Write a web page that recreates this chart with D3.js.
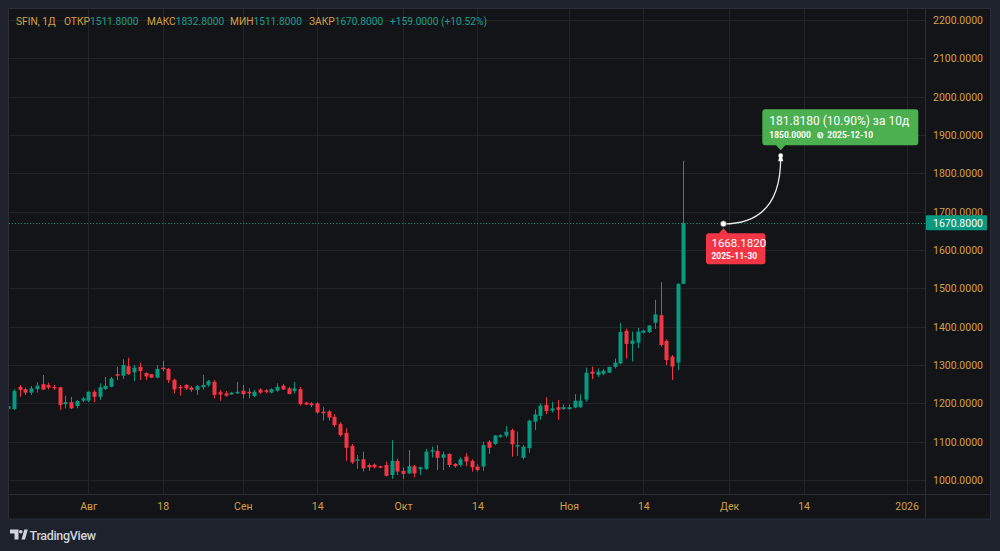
<!DOCTYPE html>
<html><head><meta charset="utf-8">
<script src="https://cdn.jsdelivr.net/npm/d3@7"></script>
<style>
html,body{margin:0;padding:0;background:#1e222d;}
svg{display:block;font-family:Roboto,"Liberation Sans",sans-serif;}
</style></head>
<body>
<svg id="c" width="1000" height="551"></svg>
<script>
// ---------- DATA ----------
const symbol = "SFIN, 1Д";
const opens  = [1185,1185,1243,1237,1228,1237,1250,1248,1243,1242,1198,1203,1193,1207,1207,1230,1217,1237,1243,1276,
                1272,1297,1281,1295,1279,1276,1267,1293,1290,1261,1243,1248,1241,1235,1242,1248,1256,1229,1226,1223,
                1226,1233,1230,1219,1236,1234,1228,1233,1246,1239,1232,1237,1202,1200,1200,1178,1179,1165,1146,1123,
                1089,1050,1054,1039,1040,1036,1039,1013,1050,1024,1017,1036,1028,1029,1074,1076,1058,1068,1042,1039,
                1061,1050,1035,1035,1100,1094,1113,1116,1130,1087,1058,1083,1152,1167,1196,1181,1190,1185,1185,1189,
                1190,1210,1283,1274,1277,1280,1295,1304,1389,1355,1358,1384,1386,1410,1430,1363,1322,1306,1511.8];
const highs  = [1196,1237,1248,1241,1245,1255,1274,1254,1248,1243,1220,1217,1209,1217,1232,1235,1252,1269,1269,1295,
                1315,1319,1300,1306,1281,1277,1300,1311,1292,1265,1248,1250,1245,1248,1274,1261,1261,1235,1232,1229,
                1256,1248,1239,1235,1239,1237,1239,1252,1250,1243,1256,1243,1204,1203,1203,1190,1183,1172,1151,1135,
                1094,1065,1074,1043,1043,1037,1048,1104,1056,1033,1078,1039,1035,1081,1087,1091,1074,1070,1044,1059,
                1070,1054,1042,1100,1104,1117,1119,1141,1134,1126,1091,1157,1184,1200,1216,1204,1209,1197,1197,1224,
                1224,1293,1296,1291,1290,1296,1317,1410,1395,1387,1397,1392,1404,1470,1516,1367,1326,1513,1832.8];
const lows   = [1180,1183,1217,1222,1222,1228,1235,1236,1235,1183,1187,1185,1187,1203,1203,1203,1209,1235,1242,1261,
                1263,1274,1258,1261,1261,1266,1265,1284,1253,1226,1220,1235,1230,1222,1236,1243,1213,1207,1217,1222,
                1224,1213,1213,1216,1224,1226,1226,1230,1235,1224,1226,1194,1195,1190,1173,1155,1155,1139,1113,1050,
                1042,1029,1022,1024,1030,1031,1009,1003,1013,1003,1016,1007,1013,1026,1059,1026,1026,1033,1032,1035,
                1036,1022,1022,1024,1068,1091,1110,1111,1061,1063,1054,1071,1130,1157,1172,1176,1157,1183,1183,1187,
                1188,1204,1263,1268,1273,1279,1291,1302,1317,1309,1344,1382,1383,1394,1348,1300,1261,1287,1511.8];
const closes = [1193,1232,1235,1228,1239,1246,1236,1241,1239,1196,1203,1187,1206,1213,1230,1217,1242,1246,1265,1272,
                1300,1276,1293,1284,1270,1267,1290,1289,1261,1236,1239,1239,1235,1245,1248,1258,1222,1223,1220,1228,
                1230,1224,1226,1230,1228,1230,1237,1243,1236,1224,1239,1198,1197,1195,1176,1174,1163,1143,1117,1084,
                1046,1054,1030,1033,1033,1032,1011,1050,1022,1016,1036,1017,1033,1074,1078,1058,1067,1039,1036,1054,
                1048,1033,1026,1091,1084,1116,1117,1126,1093,1091,1087,1155,1171,1194,1180,1187,1183,1190,1190,1207,
                1207,1280,1277,1283,1285,1295,1306,1386,1355,1364,1387,1390,1403,1432,1352,1313,1296,1511.8,1670.8];
const priceTicks = [1000,1100,1200,1300,1400,1500,1600,1700,1800,1900,2000,2100,2200];
const timeTickIdx = [14,27,41,54,69,82,98,111,126,139,157];
const timeTickLabels = ["Авг","18","Сен","14","Окт","14","Ноя","14","Дек","14","2026"];
const lastClose = 1670.8;
const headerLabels = ["ОТКР","МАКС","МИН","ЗАКР"];
const headerValues = ["1511.8000","1832.8000","1511.8000","1670.8000"];
const headerChange = "+159.0000 (+10.52%)";
const annStart = {idx:125, value:1668.182, date:"2025-11-30"};
const annEnd   = {idx:135, value:1850.0,   date:"2025-12-10", bars:10};

// ---------- STYLE ----------
const UP="#089981", DOWN="#f23645", GOLD="#d1a045", TEAL="#1e9e8c";
const BG="#131417", OUTER="#1e222d", GRID="#222428", BORDER="#2a2e39";
const plot = {l:9, r:925.5, t:9, b:494};

const svg = d3.select("#c");
const N = closes.length;
const x = d3.scaleLinear().domain([0, N-1]).range([8.2, 8.2 + 5.722*(N-1)]);
const y = d3.scaleLinear().domain([1000,2200]).range([480,20]);

// backgrounds
svg.append("rect").attr("width",1000).attr("height",551).attr("fill",OUTER);
svg.append("rect").attr("x",8.5).attr("y",8.5).attr("width",982).attr("height",510.5)
  .attr("fill",BG).attr("stroke",BORDER).attr("stroke-width",1);

const defs = svg.append("defs");
defs.append("clipPath").attr("id","pc").append("rect")
  .attr("x",plot.l).attr("y",plot.t).attr("width",plot.r-plot.l).attr("height",plot.b-plot.t);

// grid
const g = svg.append("g").attr("clip-path","url(#pc)");
g.selectAll(".hg").data(priceTicks).join("line")
  .attr("x1",plot.l).attr("x2",plot.r).attr("y1",d=>Math.round(y(d))+0.5).attr("y2",d=>Math.round(y(d))+0.5)
  .attr("stroke",GRID).attr("stroke-width",1);
g.selectAll(".vg").data(timeTickIdx).join("line")
  .attr("y1",plot.t).attr("y2",plot.b).attr("x1",d=>Math.round(x(d))+0.5).attr("x2",d=>Math.round(x(d))+0.5)
  .attr("stroke",GRID).attr("stroke-width",1);

// candles
const candles = d3.range(N).map(i=>({i,o:opens[i],h:highs[i],l:lows[i],c:closes[i]}));
const cg = g.append("g");
cg.selectAll(".wick").data(candles).join("line")
  .attr("x1",d=>Math.round(x(d.i))+0.5).attr("x2",d=>Math.round(x(d.i))+0.5)
  .attr("y1",d=>y(d.h)).attr("y2",d=>y(d.l))
  .attr("stroke",d=>d.c>=d.o?UP:DOWN).attr("stroke-width",1);
cg.selectAll(".body").data(candles).join("rect")
  .attr("x",d=>Math.round(x(d.i))-1.5).attr("width",4)
  .attr("y",d=>y(Math.max(d.o,d.c)))
  .attr("height",d=>Math.max(1.2, Math.abs(y(d.o)-y(d.c))))
  .attr("fill",d=>d.c>=d.o?UP:DOWN);

// last price dotted line
g.append("line").attr("x1",plot.l).attr("x2",plot.r)
  .attr("y1",Math.round(y(lastClose))+0.5).attr("y2",Math.round(y(lastClose))+0.5)
  .attr("stroke",UP).attr("stroke-width",1).attr("stroke-dasharray","1,2");

// pane separators
svg.append("line").attr("x1",925.5).attr("x2",925.5).attr("y1",8.5).attr("y2",519).attr("stroke",BORDER);
svg.append("line").attr("x1",8.5).attr("x2",990.5).attr("y1",494.5).attr("y2",494.5).attr("stroke",BORDER);

// price axis
const ya = svg.append("g").attr("transform","translate(926,0)")
  .call(d3.axisRight(y).tickValues(priceTicks).tickFormat(d3.format(".4f")).tickSize(0).tickPadding(7));
ya.select(".domain").remove();
ya.selectAll("text").attr("fill",GOLD).attr("font-size","10.5px").attr("font-family","Roboto, sans-serif");

// last price label
svg.append("rect").attr("x",926).attr("y",y(lastClose)-7.5).attr("width",61).attr("height",15).attr("fill",UP).attr("rx",1);
svg.append("text").attr("x",933).attr("y",y(lastClose)).attr("dy","0.36em")
  .attr("fill","#fff").attr("font-size","10.5px").text(d3.format(".4f")(lastClose));

// time axis
const xa = svg.append("g").attr("transform","translate(0,495)")
  .call(d3.axisBottom(x).tickValues(timeTickIdx).tickFormat((d,i)=>timeTickLabels[i]).tickSize(0).tickPadding(8));
xa.select(".domain").remove();
xa.selectAll("text").attr("fill",GOLD).attr("font-size","10.5px").attr("font-family","Roboto, sans-serif");

// header: labels anchored at fixed x, values flow after labels
const hd = svg.append("text").attr("y",25).attr("font-size","10.2px");
hd.append("tspan").attr("x",16).attr("fill",GOLD).text(symbol);
const hx = [64,147,230,309];
headerLabels.forEach((lb,i)=>{
  hd.append("tspan").attr("x",hx[i]).attr("fill",GOLD).text(lb);
  hd.append("tspan").attr("fill",TEAL).text(headerValues[i]);
});
hd.append("tspan").attr("x",390).attr("fill",TEAL).text(headerChange);

// annotation (date range projection)
const sx = x(annStart.idx), sy = y(annStart.value), ex = x(annEnd.idx), ey = y(annEnd.value);
svg.append("path").attr("d",`M${sx},${sy} Q${ex},${sy} ${ex},${ey+4}`)
  .attr("fill","none").attr("stroke","#e8e8e8").attr("stroke-width",1.3);
svg.append("circle").attr("cx",sx).attr("cy",sy).attr("r",3).attr("fill","#fff").attr("stroke","#555").attr("stroke-width",0.8);
// end marker
svg.append("path").attr("d",`M${ex-2.5},${ey+7} L${ex+2.5},${ey+7} L${ex+1.5},${ey+3} L${ex-1.5},${ey+3} Z`).attr("fill","#fff");
svg.append("circle").attr("cx",ex).attr("cy",ey+1.5).attr("r",2.3).attr("fill","#fff");

// red start label
const rb = {x:sx-17.5, y:sy+9.5, w:59.5, h:31};
svg.append("path").attr("d",`M${sx-5},${rb.y+0.5} L${sx},${rb.y-5} L${sx+5},${rb.y+0.5} Z`).attr("fill",DOWN);
svg.append("rect").attr("x",rb.x).attr("y",rb.y).attr("width",rb.w).attr("height",rb.h).attr("rx",3).attr("fill",DOWN);
svg.append("text").attr("x",rb.x+5.5).attr("y",rb.y+14).attr("fill","#fff").attr("font-size","11.5px")
  .text(d3.format(".4f")(annStart.value));
svg.append("text").attr("x",rb.x+5.5).attr("y",rb.y+25.5).attr("fill","#fff").attr("font-size","8.5px").attr("font-weight","bold")
  .text(annStart.date);

// green end label
const diff = annEnd.value - annStart.value, pct = diff/annStart.value*100;
const gb = {x:762.3, y:109.3, w:156, h:36};
const GREEN="#4caf50";
svg.append("rect").attr("x",gb.x).attr("y",gb.y).attr("width",gb.w).attr("height",gb.h).attr("rx",3).attr("fill",GREEN);
svg.append("path").attr("d",`M${ex-5},${gb.y+gb.h-0.5} L${ex},${gb.y+gb.h+5} L${ex+5},${gb.y+gb.h-0.5} Z`).attr("fill",GREEN);
svg.append("text").attr("x",gb.x+7).attr("y",gb.y+16).attr("fill","#fff").attr("font-size","12px")
  .text(`${d3.format(".4f")(diff)} (${pct.toFixed(2)}%) за ${annEnd.bars}д`);
const l2 = svg.append("g").attr("fill","#fff").attr("font-size","8.5px").attr("font-weight","bold");
l2.append("text").attr("x",gb.x+7).attr("y",gb.y+29).text(d3.format(".4f")(annEnd.value));
l2.append("circle").attr("cx",gb.x+58).attr("cy",gb.y+26).attr("r",3.2).attr("fill","rgba(255,255,255,0.75)");
l2.append("path").attr("d",`M${gb.x+58},${gb.y+24} L${gb.x+58},${gb.y+26} L${gb.x+59.5},${gb.y+27}`).attr("stroke",GREEN).attr("stroke-width",0.8).attr("fill","none");
l2.append("text").attr("x",gb.x+65).attr("y",gb.y+29).text(annEnd.date);

// TradingView logo
const lg = svg.append("g").attr("fill","#d1d4dc");
lg.append("path").attr("d","M10,529.5 h8.5 v10 h-4 v-6 h-4.5 Z");
lg.append("circle").attr("cx",20.8).attr("cy",531.8).attr("r",1.8);
lg.append("path").attr("d","M21.5,539.5 L24.3,529.5 L27.8,529.5 L25,539.5 Z");
lg.append("text").attr("x",29.5).attr("y",539.5).attr("font-size","12.5px").attr("font-weight","500").attr("letter-spacing","-0.3").text("TradingView");
</script>
</body></html>
